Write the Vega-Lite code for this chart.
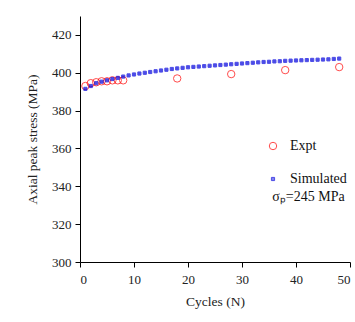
{
  "$schema": "https://vega.github.io/schema/vega-lite/v6.json",
  "width": 270,
  "height": 246,
  "autosize": "none",
  "padding": {"left": 80, "top": 16, "right": 5, "bottom": 60},
  "background": "white",
  "config": {
    "view": {"stroke": null},
    "font": "Liberation Serif",
    "axis": {"grid": false, "domainColor": "#000", "tickColor": "#000", "tickSize": 5, "labelColor": "#222", "titleColor": "#222", "labelFont": "Liberation Serif", "titleFont": "Liberation Serif", "labelFontSize": 13, "titleFontSize": 13.5, "titleFontWeight": "normal"},
    "legend": {"labelFont": "Liberation Serif", "labelFontSize": 14, "labelColor": "#111", "rowPadding": 19, "labelOffset": 10, "symbolStrokeWidth": 1}
  },
  "datasets": {
    "pts": [
      {"N": 1, "stress": 393, "series": "Expt"},
      {"N": 2, "stress": 394.5, "series": "Expt"},
      {"N": 3, "stress": 395, "series": "Expt"},
      {"N": 4, "stress": 395.5, "series": "Expt"},
      {"N": 5, "stress": 395.5, "series": "Expt"},
      {"N": 6, "stress": 396, "series": "Expt"},
      {"N": 7, "stress": 396, "series": "Expt"},
      {"N": 8, "stress": 396, "series": "Expt"},
      {"N": 18, "stress": 397, "series": "Expt"},
      {"N": 28, "stress": 399.3, "series": "Expt"},
      {"N": 38, "stress": 401.4, "series": "Expt"},
      {"N": 48, "stress": 403, "series": "Expt"},
      {"N": 1, "stress": 391.5, "series": "Simulated"},
      {"N": 2, "stress": 393, "series": "Simulated"},
      {"N": 3, "stress": 394.5, "series": "Simulated"},
      {"N": 4, "stress": 395.3, "series": "Simulated"},
      {"N": 5, "stress": 396, "series": "Simulated"},
      {"N": 6, "stress": 396.7, "series": "Simulated"},
      {"N": 7, "stress": 397.3, "series": "Simulated"},
      {"N": 8, "stress": 398, "series": "Simulated"},
      {"N": 9, "stress": 398.6, "series": "Simulated"},
      {"N": 10, "stress": 399.1, "series": "Simulated"},
      {"N": 11, "stress": 399.6, "series": "Simulated"},
      {"N": 12, "stress": 400, "series": "Simulated"},
      {"N": 13, "stress": 400.4, "series": "Simulated"},
      {"N": 14, "stress": 400.8, "series": "Simulated"},
      {"N": 15, "stress": 401.2, "series": "Simulated"},
      {"N": 16, "stress": 401.6, "series": "Simulated"},
      {"N": 17, "stress": 402, "series": "Simulated"},
      {"N": 18, "stress": 402.3, "series": "Simulated"},
      {"N": 19, "stress": 402.6, "series": "Simulated"},
      {"N": 20, "stress": 402.9, "series": "Simulated"},
      {"N": 21, "stress": 403.1, "series": "Simulated"},
      {"N": 22, "stress": 403.3, "series": "Simulated"},
      {"N": 23, "stress": 403.5, "series": "Simulated"},
      {"N": 24, "stress": 403.7, "series": "Simulated"},
      {"N": 25, "stress": 403.9, "series": "Simulated"},
      {"N": 26, "stress": 404.1, "series": "Simulated"},
      {"N": 27, "stress": 404.3, "series": "Simulated"},
      {"N": 28, "stress": 404.5, "series": "Simulated"},
      {"N": 29, "stress": 404.7, "series": "Simulated"},
      {"N": 30, "stress": 404.9, "series": "Simulated"},
      {"N": 31, "stress": 405.1, "series": "Simulated"},
      {"N": 32, "stress": 405.3, "series": "Simulated"},
      {"N": 33, "stress": 405.5, "series": "Simulated"},
      {"N": 34, "stress": 405.7, "series": "Simulated"},
      {"N": 35, "stress": 405.8, "series": "Simulated"},
      {"N": 36, "stress": 406, "series": "Simulated"},
      {"N": 37, "stress": 406.1, "series": "Simulated"},
      {"N": 38, "stress": 406.3, "series": "Simulated"},
      {"N": 39, "stress": 406.4, "series": "Simulated"},
      {"N": 40, "stress": 406.5, "series": "Simulated"},
      {"N": 41, "stress": 406.6, "series": "Simulated"},
      {"N": 42, "stress": 406.7, "series": "Simulated"},
      {"N": 43, "stress": 406.8, "series": "Simulated"},
      {"N": 44, "stress": 406.9, "series": "Simulated"},
      {"N": 45, "stress": 407, "series": "Simulated"},
      {"N": 46, "stress": 407.1, "series": "Simulated"},
      {"N": 47, "stress": 407.3, "series": "Simulated"},
      {"N": 48, "stress": 407.5, "series": "Simulated"}
    ],
    "note": [{"N": 35.6, "stress": 332.5, "label": "σₚ=245 MPa"}]
  },
  "layer": [
    {
      "data": {"name": "pts"},
      "mark": {"type": "point", "filled": true, "strokeWidth": 1},
      "encoding": {
        "x": {"field": "N", "type": "quantitative", "scale": {"domain": [0, 50], "nice": false}, "axis": {"title": "Cycles (N)", "values": [0, 10, 20, 30, 40, 50], "labelPadding": 6, "titlePadding": 8}},
        "y": {"field": "stress", "type": "quantitative", "scale": {"domain": [300, 430], "nice": false, "zero": false}, "axis": {"title": "Axial peak stress (MPa)", "values": [300, 320, 340, 360, 380, 400, 420], "labelPadding": 4, "titlePadding": 12}},
        "fill": {"field": "series", "type": "nominal", "scale": {"domain": ["Expt", "Simulated"], "range": ["transparent", "#0000dd"]}, "legend": {"title": null, "orient": "none", "legendX": 186, "legendY": 123}},
        "stroke": {"field": "series", "type": "nominal", "scale": {"domain": ["Expt", "Simulated"], "range": ["#ff0000", "#0000dd"]}, "legend": {"title": null, "orient": "none", "legendX": 186, "legendY": 123}},
        "shape": {"field": "series", "type": "nominal", "scale": {"domain": ["Expt", "Simulated"], "range": ["circle", "square"]}, "legend": {"title": null, "orient": "none", "legendX": 186, "legendY": 123}},
        "size": {"field": "series", "type": "nominal", "scale": {"domain": ["Expt", "Simulated"], "range": [55, 10]}, "legend": {"title": null, "orient": "none", "legendX": 186, "legendY": 123}}
      }
    },
    {
      "data": {"name": "note"},
      "mark": {"type": "text", "align": "left", "baseline": "alphabetic", "font": "Liberation Serif", "fontSize": 14, "color": "#111"},
      "encoding": {
        "x": {"field": "N", "type": "quantitative"},
        "y": {"field": "stress", "type": "quantitative"},
        "text": {"field": "label"}
      }
    }
  ]
}
